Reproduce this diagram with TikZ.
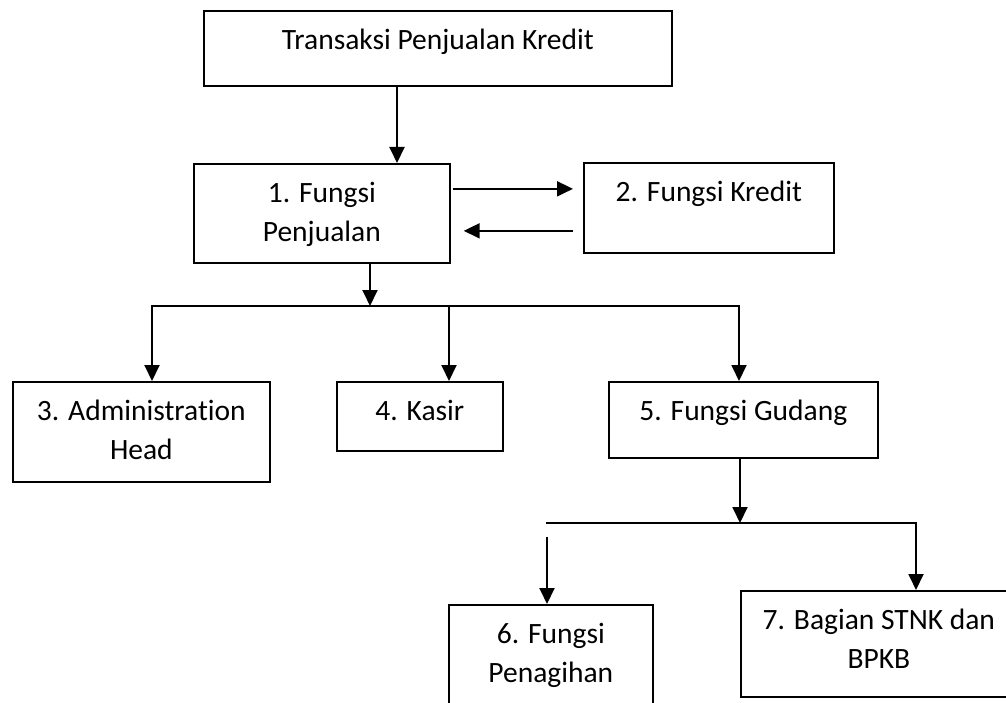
\documentclass[tikz,border=0pt]{standalone}
\usepackage{fontspec}
\setmainfont{Carlito}[Ligatures=CommonOff]
\usepackage{tikz}
\usetikzlibrary{arrows.meta,positioning}

% text hangs from the top of its box
\newcommand{\boxtext}[3]{\parbox[c][#2pt][t]{#1pt}{\centering\vspace*{12pt}\strut #3}}

\begin{document}
\begin{tikzpicture}[
x=1pt, y=-1pt,
font=\fontsize{29.5}{38.5}\selectfont,
box/.style={draw, line width=1.7pt, inner sep=0pt, anchor=north west},
link/.style={line width=1.9pt},
flow/.style={link, -{Triangle[width=15pt,length=16pt]}}]
    \useasboundingbox (0,0) rectangle (1006,703);

    % Draw boxes
    \node[box] (trans) at (203,10) {\boxtext{468}{75}{Transaksi Penjualan Kredit}};
    \node[box] (jual) at (193,163) {\boxtext{256}{99}{1. Fungsi\\Penjualan}};
    \node[box] (kredit) at (583,162) {\boxtext{250}{90}{2. Fungsi Kredit}};
    \node[box] (admin) at (12,381) {\boxtext{257}{100}{3. Administration\\Head}};
    \node[box] (kasir) at (336,381) {\boxtext{166}{69}{4. Kasir}};
    \node[box] (gudang) at (608,381) {\boxtext{269}{76}{5. Fungsi Gudang}};
    \node[box] (tagih) at (448,604) {\boxtext{204}{116}{6. Fungsi\\Penagihan}};
    \node[box] (stnk) at (740,590) {\boxtext{276}{106}{7. Bagian STNK dan\\BPKB}};

    \draw
    (397,0) coordinate (j1)
    (370,306) coordinate (bus)
    (152,306) coordinate (b3)
    (449,306) coordinate (b4)
    (739,306) coordinate (b5)
    (740,523) coordinate (bus2)
    (547,523) coordinate (c6)
    (916,523) coordinate (c7);

    % Draw arrows
    \draw[flow] (trans.south -| j1) -- (jual.north -| j1);
    \draw[flow, shorten <=2pt, shorten >=10pt] ([yshift=24.5pt]jual.east) -- ([yshift=24.5pt]jual.east -| kredit.west);
    \draw[flow, shorten <=10pt, shorten >=13pt] ([yshift=-17.5pt]jual.east -| kredit.west) -- ([yshift=-17.5pt]jual.east);

    \draw[flow] (jual.south -| bus) -- (bus);
    \draw[link, line cap=rect] (b3) -- (b5);
    \draw[flow] (b3) -- (b3 |- admin.north);
    \draw[flow] (b4) -- (b4 |- kasir.north);
    \draw[flow] (b5) -- (b5 |- gudang.north);

    \draw[flow] (gudang.south -| bus2) -- (bus2);
    \draw[link, line cap=rect] (c6) -- (c7);
    \draw[flow] ([yshift=-14pt]c6) -- (c6 |- tagih.north);
    \draw[flow] (c7) -- (c7 |- stnk.north);

\end{tikzpicture}
\end{document}
